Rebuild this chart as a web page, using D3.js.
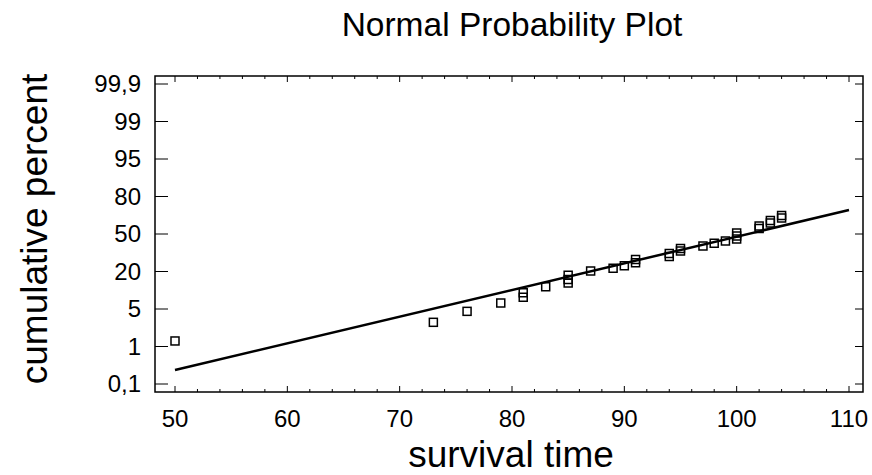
<!DOCTYPE html>
<html>
<head>
<meta charset="utf-8">
<script src="https://cdn.jsdelivr.net/npm/d3@7"></script>
<style>
  html, body { margin: 0; padding: 0; background: #fff; }
  svg { display: block; font-family: "Liberation Sans", Arial, sans-serif; }
</style>
</head>
<body>
<svg id="chart" width="872" height="475"></svg>
<script>
// ---- data ----
const survivalTime = [50, 73, 76, 79, 81, 81, 83, 85, 85, 85, 87, 89, 90, 91, 91, 94, 94, 95, 95, 97, 98, 99, 100, 100, 100, 102, 102, 103, 103, 104, 104];
const cumulativePercent = [1.59, 3.58, 4.75, 7.4, 9.7, 11.5, 13.9, 15.4, 16.8, 18.5, 20.4, 22.6, 24.6, 27.0, 29.6, 32.0, 34.4, 36.4, 38.4, 40.4, 42.6, 44.4, 46.0, 48.4, 50.8, 54.4, 56.4, 58.8, 60.8, 62.8, 64.8];
const fitLineX = [50, 110];
const fitLinePercent = [0.436, 69.2];
const xTicks = [50, 60, 70, 80, 90, 100, 110];
const xMinorTicks = d3.range(50, 111, 2);
const yTicks = [0.1, 1, 5, 20, 50, 80, 95, 99, 99.9];
const yTickLabels = ["0,1", "1", "5", "20", "50", "80", "95", "99", "99,9"];
const titleText = "Normal Probability Plot";
const xLabel = "survival time";
const yLabel = "cumulative percent";

// ---- layout ----
const svg = d3.select("#chart");
const frame = { left: 155, right: 863, top: 76, bottom: 392 };

const x = d3.scaleLinear().domain([50, 110]).range([175, 849]);
const yPos = yTicks.map((d, i) => 384 - i * 37.5);
const y = d3.scaleLinear().domain(yTicks).range(yPos);

// frame
svg.append("rect")
  .attr("x", frame.left).attr("y", frame.top)
  .attr("width", frame.right - frame.left).attr("height", frame.bottom - frame.top)
  .attr("fill", "none").attr("stroke", "#000").attr("stroke-width", 1.5);

// x ticks bottom & top
const tg = svg.append("g").attr("stroke", "#000").attr("stroke-width", 1);
xMinorTicks.forEach(v => {
  const major = xTicks.includes(v);
  const len = major ? 6 : 3;
  tg.append("line").attr("x1", x(v)).attr("x2", x(v)).attr("y1", frame.bottom).attr("y2", frame.bottom - len);
  tg.append("line").attr("x1", x(v)).attr("x2", x(v)).attr("y1", frame.top).attr("y2", frame.top + len);
});
// y ticks left & right
yTicks.forEach(v => {
  tg.append("line").attr("x1", frame.left).attr("x2", frame.left + 13).attr("y1", y(v)).attr("y2", y(v));
  tg.append("line").attr("x1", frame.right).attr("x2", frame.right - 8).attr("y1", y(v)).attr("y2", y(v));
});

// tick labels
svg.append("g").selectAll("text").data(xTicks).join("text")
  .attr("x", d => x(d)).attr("y", 427)
  .attr("text-anchor", "middle").attr("font-size", 24).attr("fill", "#000")
  .text(d => d);
svg.append("g").selectAll("text").data(yTicks).join("text")
  .attr("x", 141).attr("y", d => y(d)).attr("dy", "0.35em")
  .attr("text-anchor", "end").attr("font-size", 24).attr("fill", "#000")
  .text((d, i) => yTickLabels[i]);

// fit line
svg.append("line")
  .attr("x1", x(fitLineX[0])).attr("y1", y(fitLinePercent[0]))
  .attr("x2", x(fitLineX[1])).attr("y2", y(fitLinePercent[1]))
  .attr("stroke", "#000").attr("stroke-width", 2.5);

// points
const s = 8;
svg.append("g").selectAll("rect").data(survivalTime).join("rect")
  .attr("x", d => x(d) - s / 2)
  .attr("y", (d, i) => y(cumulativePercent[i]) - s / 2)
  .attr("width", s).attr("height", s)
  .attr("fill", "none").attr("stroke", "#000").attr("stroke-width", 1.5);

// titles
svg.append("text").attr("x", 512).attr("y", 36).attr("text-anchor", "middle")
  .attr("font-size", 33.5).attr("fill", "#000").text(titleText);
svg.append("text").attr("x", 511).attr("y", 467).attr("text-anchor", "middle")
  .attr("font-size", 37).attr("fill", "#000").text(xLabel);
svg.append("text").attr("transform", "translate(47,229) rotate(-90)").attr("text-anchor", "middle")
  .attr("font-size", 37).attr("fill", "#000").text(yLabel);
</script>
</body>
</html>
